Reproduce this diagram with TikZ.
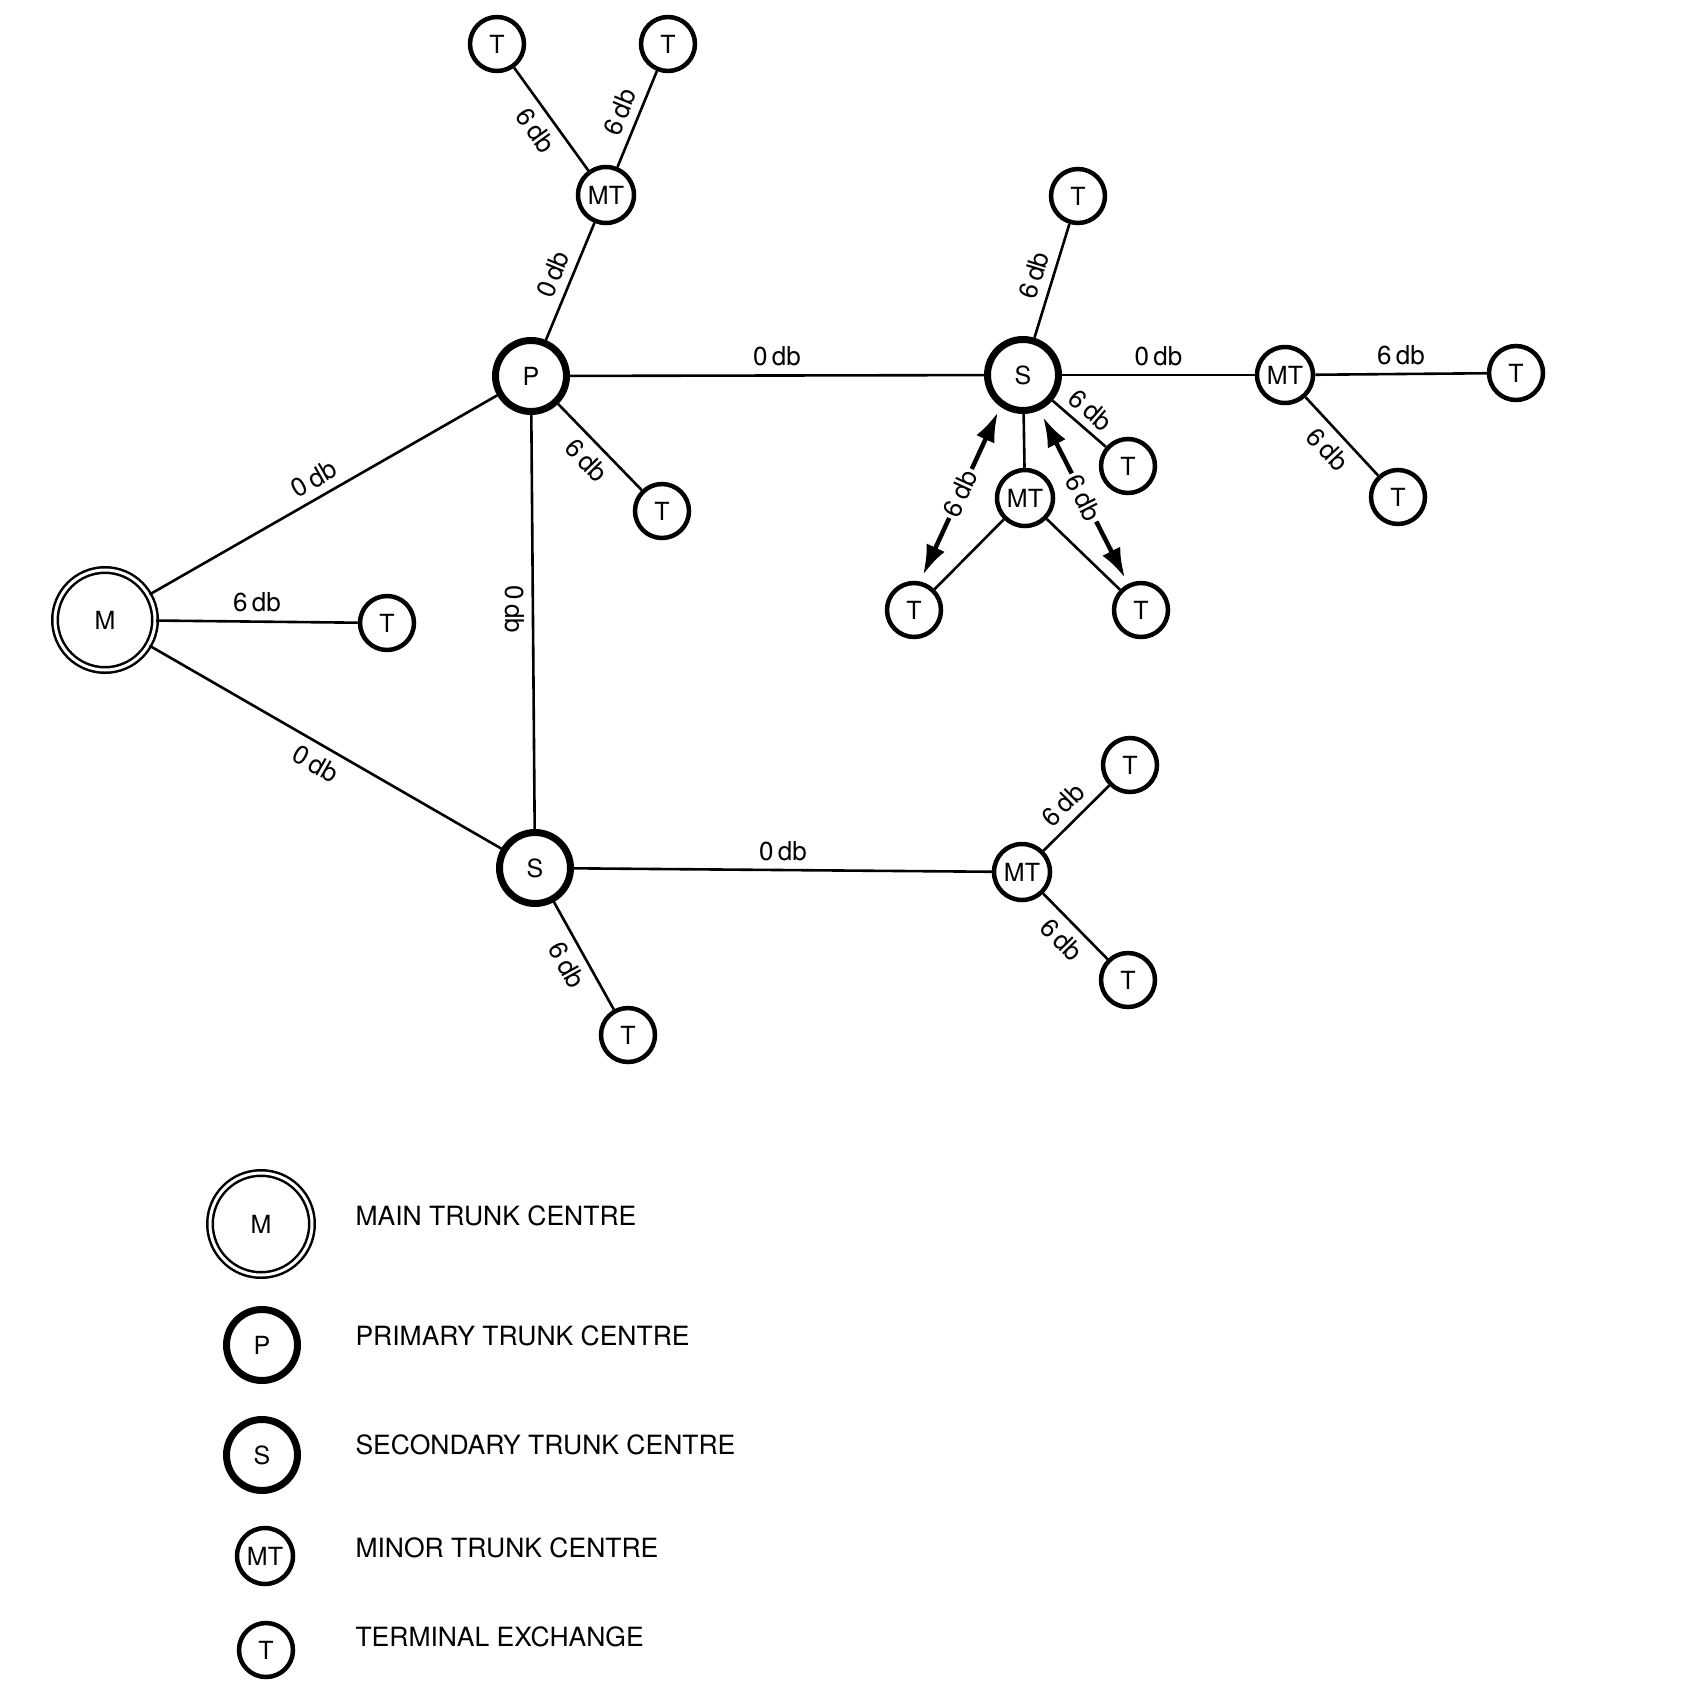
\documentclass[tikz,border=0pt]{standalone}
\usepackage{fontspec}
\setmainfont{TeX Gyre Heros}
\usetikzlibrary{arrows.meta, positioning}

\begin{document}
\begin{tikzpicture}[
                x=1pt, y=-1pt,
                every node/.style={font=\fontsize{25}{28}\selectfont},
                term/.style={circle, draw, line width=4.5pt, minimum size=54pt, inner sep=0pt},
                minor/.style={circle, draw, line width=4.5pt, minimum size=56pt, inner sep=0pt},
                trunk/.style={circle, draw, line width=7pt, minimum size=71pt, inner sep=0pt},
                mainc/.style={circle, draw, line width=2.5pt, double, double distance=3pt,
                              minimum size=100pt, inner sep=0pt},
                link/.style={line width=2.6pt},
                loss/.style={font=\fontsize{26}{28}\selectfont, inner sep=3pt},
                arrlabel/.style={font=\fontsize{26}{28}\selectfont, sloped, fill=white, inner sep=3pt},
                lossarr/.style={{Latex[length=30pt, width=20pt]}-{Latex[length=30pt, width=20pt]},
                                line width=4.5pt},
                legtext/.style={anchor=west, font=\fontsize{26.5}{30}\selectfont}
            ]
                \path[fill=white] (0,0) rectangle (1700,1692);
                \useasboundingbox (0,0) rectangle (1700,1692);

                \node[mainc] (M) at (105,620) {M};
                \node[term] (tM) at (387,623) {T};
                \node[trunk] (P) at (531,376) {P};
                \node[minor] (mtP) at (606,195) {MT};
                \node[term] (tA) at (497,44) {T};
                \node[term] (tB) at (668,44) {T};
                \node[term] (tP) at (662,511) {T};
                \node[trunk] (S1) at (1023,375) {S};
                \node[term] (tS1) at (1078,196) {T};
                \node[minor] (mtE) at (1285,375) {MT};
                \node[term] (tE1) at (1516,373) {T};
                \node[term] (tE2) at (1398,497) {T};
                \node[term] (tS2) at (1128,466) {T};
                \node[minor] (mtS) at (1025,498) {MT};
                \node[term] (tL) at (914,610) {T};
                \node[term] (tR) at (1141,610) {T};
                \node[trunk] (S2) at (535,868) {S};
                \node[term] (tS3) at (628,1035) {T};
                \node[minor] (mtB) at (1022,872) {MT};
                \node[term] (tB1) at (1130,765) {T};
                \node[term] (tB2) at (1128,980) {T};

                \draw[link] (M) -- node[loss, sloped, above=5pt] {0\,db} (P);
                \draw[link] (M) -- node[loss, above=5pt] {6\,db} (tM);
                \draw[link] (M) -- node[loss, sloped, below=5pt] {0\,db} (S2);
                \draw[link] (P) -- node[loss, sloped, above=5pt] {0\,db} (mtP);
                \draw[link] (tA) -- node[loss, sloped, below=5pt] {6\,db} (mtP);
                \draw[link] (mtP) -- node[loss, sloped, above=5pt] {6\,db} (tB);
                \draw[link] (P) -- node[loss, sloped, below=5pt] {6\,db} (tP);
                \draw[link] (P) -- node[loss, above=5pt] {0\,db} (S1);
                \draw[link] (P) -- node[loss, pos=.47, rotate=-90, anchor=north, inner sep=7pt] {0\,db} (S2);
                \draw[link] (S1) -- node[loss, sloped, above=5pt] {6\,db} (tS1);
                \draw[link] (S1) -- node[loss, above=5pt] {0\,db} (mtE);
                \draw[link] (mtE) -- node[loss, above=5pt] {6\,db} (tE1);
                \draw[link] (mtE) -- node[loss, sloped, below=5pt] {6\,db} (tE2);
                \draw[link] (S1) -- node[loss, sloped, above=4pt] {6\,db} (tS2);
                \draw[link] (S1) -- (mtS);
                \draw[link] (mtS) -- (tL);
                \draw[link] (mtS) -- (tR);
                \draw[link] (S2) -- node[loss, above=5pt] {0\,db} (mtB);
                \draw[link] (mtB) -- node[loss, sloped, above=5pt] {6\,db} (tB1);
                \draw[link] (mtB) -- node[loss, sloped, below=5pt] {6\,db} (tB2);
                \draw[link] (S2) -- node[loss, sloped, below=5pt] {6\,db} (tS3);

                \coordinate (aL1) at ([shift={(9,-35)}]tL.center);
                \coordinate (aL2) at ([shift={(-25,37)}]S1.center);
                \coordinate (aR1) at ([shift={(20,42)}]S1.center);
                \coordinate (aR2) at ([shift={(-16,-32)}]tR.center);
                \draw[lossarr] (aL1) -- node[arrlabel] {6\,db} (aL2);
                \draw[lossarr] (aR1) -- node[arrlabel] {6\,db} (aR2);

                \node[mainc, minimum size=102pt] (legM) at (261,1224) {M};
                \node[trunk] (legP) at (262,1345) {P};
                \node[trunk] (legS) at (262,1455) {S};
                \node[minor] (legMT) at (265,1556) {MT};
                \node[term] (legT) at (266,1650) {T};

                \node[legtext] (legMtext) at (352,1216) {MAIN TRUNK CENTRE};
                \node[legtext] (legPtext) at (352,1336) {PRIMARY TRUNK CENTRE};
                \node[legtext] (legStext) at (352,1445) {SECONDARY TRUNK CENTRE};
                \node[legtext] (legMTtext) at (352,1548) {MINOR TRUNK CENTRE};
                \node[legtext] (legTtext) at (352,1637) {TERMINAL EXCHANGE};
            \end{tikzpicture}
\end{document}
